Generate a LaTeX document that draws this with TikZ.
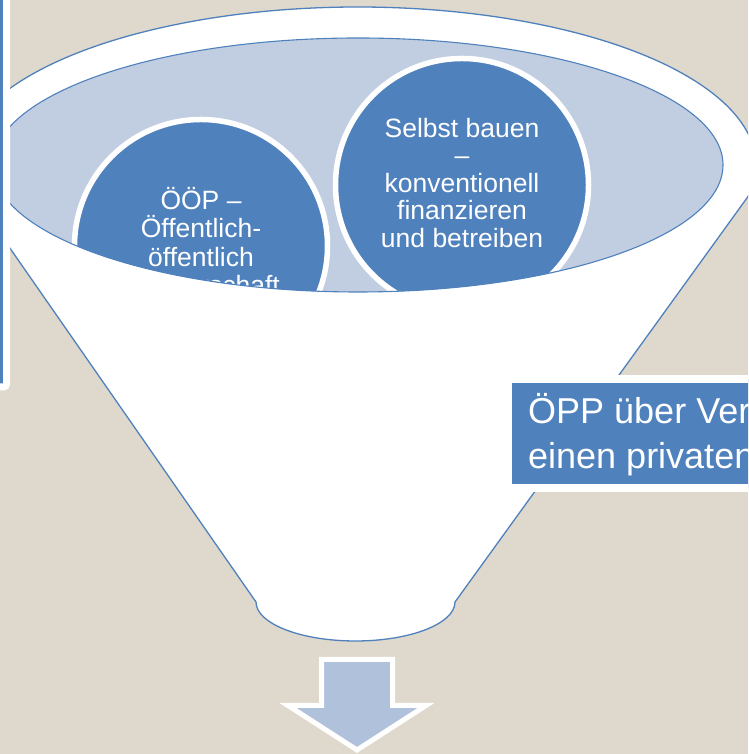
\documentclass[tikz,border=0pt]{standalone}
\usepackage{fontspec}
\setmainfont{Liberation Sans}
\definecolor{bg}{HTML}{DFD8CC}
\definecolor{accent}{HTML}{4F81BD}
\definecolor{cupfill}{HTML}{C1CDE1}
\definecolor{arrowfill}{HTML}{B0C1DB}
\begin{document}
\begin{tikzpicture}[x=1pt,y=1pt,
  circtext/.style={anchor=base, inner sep=0pt, text=white, font=\fontsize{26.5}{27.5}\selectfont},
  boxtext/.style={anchor=base west, inner sep=0pt, text=white, font=\fontsize{36}{45}\selectfont},
  itemcircle/.style={circle, fill=accent, draw=white, line width=5.5pt, minimum size=253pt, inner sep=0pt},
  outline/.style={draw=accent, line width=1.3pt, line join=round},
  whitebox/.style={draw=white, fill=accent, line width=8pt},
  downarrow/.style={draw=white, fill=arrowfill, line width=5pt},
]
\useasboundingbox (0,0) rectangle (748,754);
\clip (0,0) rectangle (748,754);
\fill[bg] (0,0) rectangle (748,754);
% funnel body
\coordinate (oc) at (358,589);
\coordinate (fl) at (0.3,519.7);
\coordinate (fr) at (455,152);
\path[outline, fill=white] (fl) arc[start angle=206, end angle=-11.5, x radius=398, y radius=158]
  -- (fr) arc[start angle=0, end angle=-180, x radius=99.5, y radius=39] -- cycle;
% inner opening with the two circles
\fill[cupfill] (oc) ellipse [x radius=365, y radius=127];
\begin{scope}
  \clip (oc) ellipse [x radius=365, y radius=127];
  \node[itemcircle] (c1) at (201,508) {};
  \node[itemcircle] (c2) at (462,569) {};
  \node[circtext] (t11) at (201,544.5) {ÖÖP –};
  \node[circtext] (t12) at (201,516) {Öffentlich-};
  \node[circtext] (t13) at (201,487.5) {öffentlich};
  \node[circtext] (t14) at (201,459) {Partnerschaft};
  \node[circtext] (t21) at (462,616.7) {Selbst bauen};
  \node[circtext] (t22) at (462,589.2) {–};
  \node[circtext] (t23) at (462,561.7) {konventionell};
  \node[circtext] (t24) at (462,534.2) {finanzieren};
  \node[circtext] (t25) at (462,506.7) {und betreiben};
\end{scope}
\draw[draw=accent, line width=1.1pt] (oc) ellipse [x radius=365, y radius=127];
% left box (mostly outside)
\draw[whitebox, line width=7pt, rounded corners=3pt] (-300,780) rectangle (6.5,367);
% right box
\draw[whitebox] (508,375) rectangle (860,265.5);
\node[boxtext] (b1) at (528,330) {ÖPP über Vertrag mit};
\node[boxtext] (b2) at (528,285) {einen privaten Partner};
% arrow
\draw[downarrow] (321.5,94.5) -- (392.5,94.5) -- (392.5,48.5) -- (426,48.5) -- (357,4)
  -- (288,48.5) -- (321.5,48.5) -- cycle;
\end{tikzpicture}
\end{document}
